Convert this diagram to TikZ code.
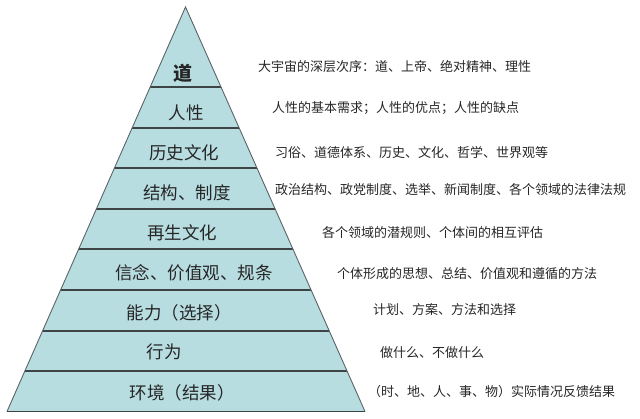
\documentclass[tikz,border=0pt]{standalone}
\usepackage{fontspec}
\newfontfamily\cjk{Noto Sans CJK SC}
\definecolor{layerfill}{HTML}{B8DDE1}
\definecolor{sepline}{HTML}{3C4446}
\definecolor{sideline}{HTML}{5A6466}
\definecolor{txt}{HTML}{262626}
\begin{document}
\begin{tikzpicture}[x=1pt,y=-1pt,
  lvl/.style={font=\cjk\fontsize{17.5}{20}\selectfont, text=txt, inner sep=0pt},
  desc/.style={font=\cjk\fontsize{13}{15}\selectfont, text=txt, anchor=west, inner sep=0pt},
  sep/.style={draw=sepline, line width=1.8pt}]
\useasboundingbox (0,0) rectangle (640,418);
\coordinate (apex) at (185.5,7);
\coordinate (bl) at (7,411.5);
\coordinate (br) at (365,411.5);
\fill[layerfill] (apex) -- (bl) -- (br) -- cycle;
\begin{scope}
\clip (apex) -- (bl) -- (br) -- cycle;
\foreach \y in {87,128,168,209,249,290,331,371}
  \draw[sep] (0,\y) -- (370,\y);
\end{scope}
\draw[sideline, line width=0.9pt, line join=miter] (bl) -- (apex) -- (br);
\draw[sep] (bl) -- (br);
% pyramid labels
\node[lvl, font=\cjk\bfseries\fontsize{19}{21}\selectfont] (l1) at (183,73) {道};
\node[lvl] (l2) at (186,113) {人性};
\node[lvl] (l3) at (184,153) {历史文化};
\node[lvl] (l4) at (187,193) {结构、制度};
\node[lvl] (l5) at (182,233) {再生文化};
\node[lvl] (l6) at (194,273) {信念、价值观、规条};
\node[lvl] (l7) at (179,313) {能力（选择）};
\node[lvl] (l8) at (164,352) {行为};
\node[lvl] (l9) at (182,393) {环境（结果）};
% descriptions
\node[desc] (d1) at (258,67) {大宇宙的深层次序：道、上帝、绝对精神、理性};
\node[desc] (d2) at (272,108) {人性的基本需求；人性的优点；人性的缺点};
\node[desc] (d3) at (275,153) {习俗、道德体系、历史、文化、哲学、世界观等};
\node[desc] (d4) at (275,190) {政治结构、政党制度、选举、新闻制度、各个领域的法律法规};
\node[desc] (d5) at (322,233) {各个领域的潜规则、个体间的相互评估};
\node[desc] (d6) at (337,274) {个体形成的思想、总结、价值观和遵循的方法};
\node[desc] (d7) at (373,310) {计划、方案、方法和选择};
\node[desc] (d8) at (380,353) {做什么、不做什么};
\node[desc] (d9) at (368,392) {（时、地、人、事、物）实际情况反馈结果};
\end{tikzpicture}
\end{document}
